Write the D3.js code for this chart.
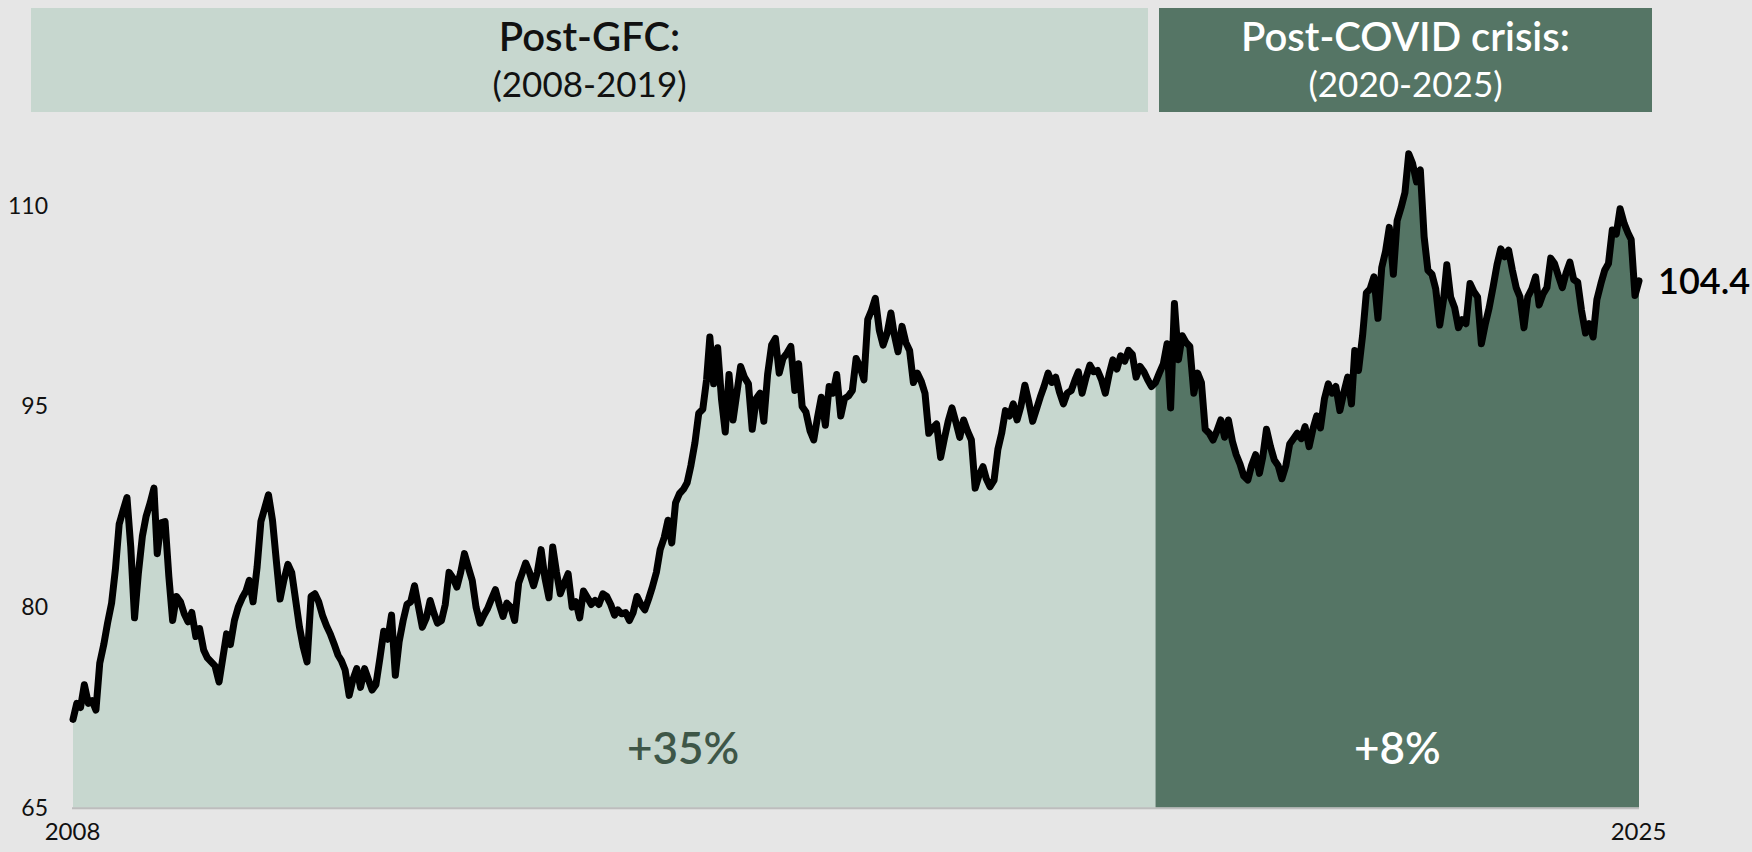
<!DOCTYPE html>
<html>
<head>
<meta charset="utf-8">
<script src="https://cdn.jsdelivr.net/npm/d3@7"></script>
<style>
  html, body { margin: 0; padding: 0; background: #e6e6e6; }
  svg { display: block; font-family: Lato, "Noto Sans", sans-serif; }
</style>
</head>
<body>
<div id="chart"></div>
<script>
// US dollar index, semi-monthly readings (1st and 16th of each month), Apr 2008 - Apr 2025
const startDate = new Date(2008, 3, 1);
const splitDate = new Date(2020, 0, 1);
const endLabel = "104.4";

const values = [
  71.6, 72.8, 72.5, 74.2, 72.8, 73.0, 72.3, 75.8, 77.2, 78.8, 80.3, 82.8, 86.2, 87.2, 88.2, 84.5, 79.2, 82.5,
  85.3, 86.8, 87.8, 88.9, 84.0, 86.3, 86.4, 82.3, 79.0, 80.8, 80.4, 79.5, 78.9, 79.6, 77.8, 78.4, 76.8, 76.2, 75.9, 75.6, 74.4, 76.2, 78.0, 77.2,
  79.0, 80.0, 80.7, 81.2, 82.0, 80.4, 83.0, 86.4, 87.4, 88.4, 86.5, 83.5, 80.6, 82.0, 83.2, 82.6, 80.5, 78.5, 77.0, 75.9, 80.8, 81.0, 80.4, 79.4,
  78.6, 78.0, 77.2, 76.4, 76.0, 75.3, 73.4, 74.6, 75.4, 74.0, 75.4, 74.6, 73.8, 74.2, 76.2, 78.2, 77.6, 79.4, 74.9, 77.4, 79.0, 80.2, 80.4, 81.6,
  80.0, 78.5, 79.2, 80.5, 79.6, 78.8, 79.0, 80.2, 82.6, 82.2, 81.5, 82.6, 84.0, 83.0, 82.0, 80.0, 78.8, 79.4, 79.9, 80.6, 81.3, 80.2, 79.3, 80.3,
  80.0, 79.0, 81.8, 82.6, 83.3, 82.6, 81.6, 82.6, 84.3, 82.2, 80.7, 84.5, 82.6, 81.0, 81.8, 82.5, 80.0, 80.4, 79.2, 81.2, 80.7, 80.2, 80.5, 80.2,
  81.0, 80.8, 80.2, 79.4, 79.8, 79.5, 79.6, 79.0, 79.6, 80.8, 80.2, 79.8, 80.6, 81.5, 82.6, 84.3, 85.2, 86.5, 84.8, 87.8, 88.5, 88.8, 89.3, 90.6,
  92.3, 94.5, 94.8, 97.0, 100.2, 96.7, 99.4, 95.6, 93.1, 97.4, 94.0, 96.0, 98.0, 97.2, 96.7, 93.3, 95.6, 96.0, 93.9, 97.4, 99.6, 100.1, 97.5, 98.6,
  99.0, 99.5, 96.2, 98.2, 95.0, 94.6, 93.2, 92.5, 94.2, 95.7, 93.6, 96.5, 96.0, 97.4, 94.3, 95.6, 95.8, 96.2, 98.6, 98.0, 97.0, 101.5, 102.2, 103.1,
  100.7, 99.6, 100.5, 102.0, 100.4, 99.1, 101.0, 99.8, 99.2, 96.8, 97.5, 96.9, 96.0, 93.0, 93.4, 93.7, 91.2, 92.6, 93.9, 94.9, 93.8, 92.7, 94.0, 93.2,
  92.5, 88.9, 89.9, 90.5, 89.6, 89.0, 89.5, 91.8, 93.0, 94.7, 94.3, 95.2, 94.0, 95.0, 96.6, 95.4, 93.9, 94.8, 95.7, 96.5, 97.5, 96.8, 97.2, 96.1,
  95.2, 96.0, 96.2, 97.0, 97.6, 96.0, 97.2, 98.1, 97.6, 97.7, 97.0, 96.0, 97.4, 98.5, 97.8, 98.8, 98.4, 99.2, 98.9, 97.2, 98.0, 97.6, 97.0, 96.5,
  96.8, 97.5, 98.2, 99.7, 94.9, 102.7, 98.5, 100.3, 99.8, 99.5, 96.0, 97.5, 96.8, 93.3, 93.0, 92.5, 93.2, 94.0, 92.7, 94.0, 92.4, 91.4, 90.7, 89.8,
  89.5, 90.6, 91.4, 90.0, 91.2, 93.3, 92.0, 91.0, 90.6, 89.6, 90.6, 92.2, 92.6, 93.0, 92.6, 93.5, 92.0, 93.3, 94.3, 93.4, 95.6, 96.7, 96.0, 96.5,
  94.7, 96.0, 97.2, 95.2, 99.2, 97.7, 100.3, 103.5, 103.8, 104.7, 101.6, 105.4, 106.6, 108.4, 104.9, 108.9, 109.9, 111.0, 113.9, 113.2, 111.8, 112.7, 107.7, 105.2,
  104.9, 103.8, 101.1, 103.0, 105.6, 103.2, 102.4, 100.9, 101.5, 101.2, 104.2, 103.6, 103.2, 99.7, 101.2, 102.4, 104.0, 105.6, 106.8, 106.2, 106.7, 105.2, 103.9, 103.2,
  100.9, 103.2, 103.8, 104.7, 102.6, 103.4, 103.9, 106.1, 105.7, 104.8, 103.9, 105.0, 105.8, 104.5, 104.3, 102.2, 100.5, 101.2, 100.2, 103.0, 104.2, 105.2, 105.7, 108.2,
  107.9, 109.8, 108.7, 108.0, 107.5, 103.3, 104.4
];

const yTicks = [65, 80, 95, 110];
const periods = [
  { title: "Post-GFC:", years: "(2008-2019)", change: "+35%" },
  { title: "Post-COVID crisis:", years: "(2020-2025)", change: "+8%" }
];

// half-month steps: index i -> month floor(i/2), day 1 or 16
const data = values.map((v, i) => ({
  date: new Date(startDate.getFullYear(), startDate.getMonth() + Math.floor(i / 2), i % 2 ? 16 : 1),
  value: v
}));

const width = 1752, height = 852;
const margin = { left: 73, right: 113, top: 150, bottom: 44 };

const svg = d3.select("#chart").append("svg")
  .attr("width", width)
  .attr("height", height);

svg.append("rect")
  .attr("width", width)
  .attr("height", height)
  .attr("fill", "#e6e6e6");

const x = d3.scaleTime()
  .domain([data[0].date, data[data.length - 1].date])
  .range([margin.left, width - margin.right]);

const y = d3.scaleLinear()
  .domain([65, 110])
  .range([807.7, 206]);

const colLight = "#c7d7cf";
const colDark = "#557565";

// header boxes
const boxes = [
  { x0: 31, x1: 1148, fill: colLight, text: "#111" },
  { x0: 1159, x1: 1652, fill: colDark, text: "#fff" }
];
boxes.forEach((b, i) => {
  svg.append("rect")
    .attr("x", b.x0).attr("y", 8)
    .attr("width", b.x1 - b.x0).attr("height", 104)
    .attr("fill", b.fill);
  const cx = (b.x0 + b.x1) / 2;
  svg.append("text")
    .attr("x", cx).attr("y", 51)
    .attr("text-anchor", "middle")
    .attr("fill", b.text)
    .attr("font-size", "40px")
    .attr("font-weight", 600)
    .text(periods[i].title);
  svg.append("text")
    .attr("x", cx).attr("y", 97)
    .attr("text-anchor", "middle")
    .attr("fill", b.text)
    .attr("font-size", "35px")
    .attr("font-weight", 400)
    .text(periods[i].years);
});

const before = data.filter(d => d.date <= splitDate);
const after = data.filter(d => d.date >= splitDate);

const area = d3.area()
  .x(d => x(d.date))
  .y0(y(65))
  .y1(d => y(d.value));

svg.append("path").datum(before).attr("d", area).attr("fill", colLight);
svg.append("path").datum(after).attr("d", area).attr("fill", colDark);

// baseline
svg.append("line")
  .attr("x1", x.range()[0] - 1).attr("x2", x.range()[1])
  .attr("y1", y(65) + 0.5).attr("y2", y(65) + 0.5)
  .attr("stroke", "#bdbdbd")
  .attr("stroke-width", 2);

const line = d3.line()
  .x(d => x(d.date))
  .y(d => y(d.value));

svg.append("path")
  .datum(data)
  .attr("d", line)
  .attr("fill", "none")
  .attr("stroke", "#000")
  .attr("stroke-width", 7)
  .attr("stroke-linejoin", "round")
  .attr("stroke-linecap", "round");

// y axis labels
const yAxis = d3.axisLeft(y).tickValues(yTicks).tickSize(0).tickPadding(0);
svg.append("g")
  .attr("transform", "translate(48,0)")
  .call(yAxis)
  .call(g => g.select(".domain").remove())
  .selectAll("text")
  .attr("font-family", "Lato, sans-serif")
  .attr("font-size", "23px")
  .attr("fill", "#111");

// x axis labels at both ends
const xAxis = d3.axisBottom(x)
  .tickValues([data[0].date, data[data.length - 1].date])
  .tickFormat(d3.timeFormat("%Y"))
  .tickSize(0).tickPadding(0);
svg.append("g")
  .attr("transform", "translate(-1,823)")
  .call(xAxis)
  .call(g => g.select(".domain").remove())
  .selectAll("text")
  .attr("font-family", "Lato, sans-serif")
  .attr("font-size", "24px")
  .attr("fill", "#111");

// period change labels
svg.append("text")
  .attr("x", 683).attr("y", 764)
  .attr("text-anchor", "middle")
  .attr("fill", "#3e5647")
  .attr("font-size", "44px")
  .attr("font-weight", 600)
  .text(periods[0].change);

svg.append("text")
  .attr("x", (x(splitDate) + x.range()[1]) / 2).attr("y", 764)
  .attr("text-anchor", "middle")
  .attr("fill", "#fff")
  .attr("font-size", "44px")
  .attr("font-weight", 600)
  .text(periods[1].change);

// last value label
const last = data[data.length - 1];
svg.append("text")
  .attr("x", x(last.date) + 19).attr("y", y(last.value) + 13)
  .attr("fill", "#000")
  .attr("font-size", "36px")
  .attr("font-weight", 600)
  .text(endLabel);
</script>
</body>
</html>
